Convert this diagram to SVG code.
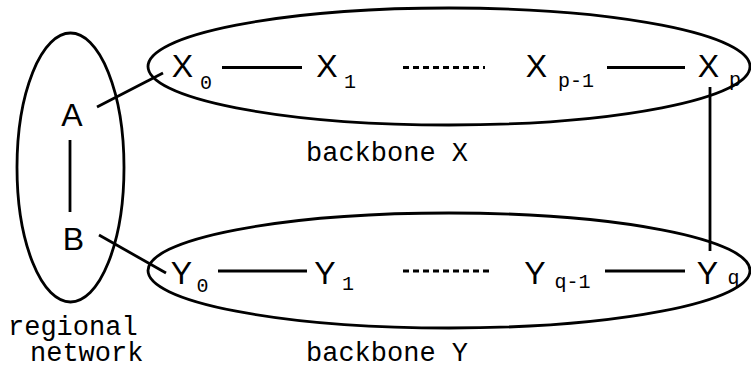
<svg xmlns="http://www.w3.org/2000/svg" width="751" height="369" viewBox="0 0 751 369">
<style>
.shape{fill:none;stroke:#000;stroke-width:2.8}
.ln{stroke:#000;stroke-width:2.8;fill:none}
.dot{stroke:#000;stroke-width:2.8;stroke-dasharray:6 4;fill:none}
.lbl{font-family:"Liberation Sans",Arial,sans-serif;font-size:32px;fill:#000;text-anchor:middle}
.sub{font-family:"Liberation Mono","Courier New",monospace;font-size:20px;fill:#000;text-anchor:middle}
.cap{font-family:"Liberation Mono","Courier New",monospace;font-size:27px;fill:#000}
</style>
<rect width="751" height="369" fill="#fff"/>
<g id="groups">
<ellipse id="regional" class="shape" cx="70.5" cy="167.5" rx="53.5" ry="134.5"/>
<ellipse id="backboneX" class="shape" cx="449" cy="66.5" rx="301" ry="58.5"/>
<ellipse id="backboneY" class="shape" cx="449" cy="270.5" rx="301" ry="57.5"/>
</g>
<g id="connectors">
<line class="ln" x1="97" y1="107" x2="163" y2="73"/>
<line class="ln" x1="222" y1="67.5" x2="302" y2="67.5"/>
<line class="dot" x1="403" y1="67.5" x2="485" y2="67.5"/>
<line class="ln" x1="607" y1="67.5" x2="685" y2="67.5"/>
<line class="ln" x1="710" y1="87" x2="710" y2="251"/>
<line class="ln" x1="70" y1="140" x2="70" y2="212"/>
<line class="ln" x1="99" y1="235" x2="166" y2="273"/>
<line class="ln" x1="218" y1="271" x2="307" y2="271"/>
<line class="dot" x1="403" y1="271" x2="489" y2="271"/>
<line class="ln" x1="605" y1="271" x2="685" y2="271"/>
</g>
<g id="A"><text class="lbl" x="72" y="126">A</text></g>
<g id="B"><text class="lbl" x="73.5" y="250">B</text></g>
<g id="X0"><text class="lbl" x="182.5" y="77">X</text><text class="sub" x="206" y="89">0</text></g>
<g id="X1"><text class="lbl" x="327" y="77">X</text><text class="sub" x="350" y="88">1</text></g>
<g id="Xp-1"><text class="lbl" x="536.5" y="77">X</text><text class="sub" x="576" y="87">p-1</text></g>
<g id="Xp"><text class="lbl" x="708.5" y="77">X</text><text class="sub" x="735" y="86">p</text></g>
<g id="Y0"><text class="lbl" x="181.5" y="284">Y</text><text class="sub" x="202.5" y="292">0</text></g>
<g id="Y1"><text class="lbl" x="325" y="284">Y</text><text class="sub" x="348" y="290">1</text></g>
<g id="Yq-1"><text class="lbl" x="535" y="284">Y</text><text class="sub" x="572.5" y="288">q-1</text></g>
<g id="Yq"><text class="lbl" x="707.5" y="284">Y</text><text class="sub" x="733.5" y="284">q</text></g>
<g id="labels">
<text class="cap" x="8" y="335">regional</text>
<text class="cap" x="30" y="361">network</text>
<text class="cap" x="306" y="161">backbone X</text>
<text class="cap" x="306" y="361">backbone Y</text>
</g>
</svg>
